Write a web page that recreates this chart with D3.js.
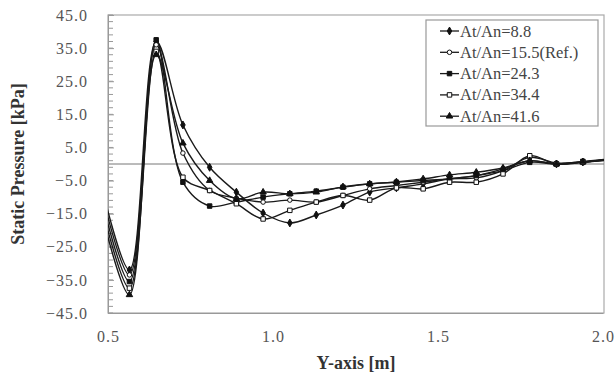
<!DOCTYPE html>
<html>
<head>
<meta charset="utf-8">
<script src="https://cdn.jsdelivr.net/npm/d3@7"></script>
<style>
  body { margin: 0; background: #fff; }
  text { font-family: "Liberation Serif", "DejaVu Serif", serif; }
</style>
</head>
<body>
<svg id="chart" width="616" height="379"></svg>
<script>
// positions along the duct [m]
const positions = [0.484, 0.565, 0.646, 0.727, 0.808, 0.889, 0.970, 1.051, 1.131, 1.212,
                   1.293, 1.374, 1.455, 1.535, 1.616, 1.697, 1.778, 1.859, 1.939, 2.020];

// static pressure [kPa] per area ratio
const ratio88  = [-8, -32.0, 37.0, 11.8, -1.0, -8.5, -14.8, -17.8, -15.4, -12.4, -8.5, -7.2, -6.0, -4.5, -3.5, -1.5, 1.0, 0.0, 0.6, 1.5];
const ratio155 = [-10, -33.5, 36.0,  3.3, -8.0, -10.3, -11.5, -10.9, -11.5, -9.5, -7.5, -6.5, -5.5, -4.5, -4.2, -2.0, 2.0, 0.3, 0.6, 1.3];
const ratio243 = [-12, -35.5, 37.5, -5.5, -12.7, -11.5, -10.0, -9.0, -8.2, -7.0, -6.0, -5.5, -5.0, -4.5, -3.5, -2.0, 0.5, 0.0, 0.8, 1.5];
const ratio344 = [-14, -37.5, 34.0, -4.0, -8.0, -12.0, -16.6, -14.0, -11.5, -9.5, -10.9, -7.2, -7.5, -5.5, -5.5, -3.0, 2.5, 0.0, 0.5, 1.2];
const ratio416 = [-16, -39.5, 33.0,  6.3, -5.0, -10.5, -8.5, -9.0, -8.5, -6.9, -6.0, -5.4, -4.5, -3.3, -2.5, -1.2, 1.0, 0.0, 0.6, 1.4];

const seriesNames = ["At/An=8.8", "At/An=15.5(Ref.)", "At/An=24.3", "At/An=34.4", "At/An=41.6"];
const seriesValues = [ratio88, ratio155, ratio243, ratio344, ratio416];
const seriesMarkers = ["diamond", "circle", "square", "square", "triangle"];
const seriesFilled = [true, false, true, false, true];

const yTicks = [-45, -35, -25, -15, -5, 5, 15, 25, 35, 45];
const xTicks = [0.5, 1.0, 1.5, 2.0];

const svg = d3.select("#chart");
const plotL = 108, plotR = 604, plotT = 15, plotB = 313;

const x = d3.scaleLinear().domain([0.5, 2.0]).range([plotL, 603]);
const y = d3.scaleLinear().domain([-45, 45]).range([plotB, plotT]);

// clip for plot
svg.append("clipPath").attr("id", "plotclip")
  .append("rect").attr("x", plotL).attr("y", plotT).attr("width", plotR - plotL).attr("height", plotB - plotT);

// frame
svg.append("rect")
  .attr("x", plotL).attr("y", plotT)
  .attr("width", plotR - plotL).attr("height", plotB - plotT)
  .attr("fill", "none").attr("stroke", "#aaa").attr("stroke-width", 1.2);

// zero line
svg.append("line")
  .attr("x1", plotL).attr("x2", plotR)
  .attr("y1", y(0)).attr("y2", y(0))
  .attr("stroke", "#777").attr("stroke-width", 1);

// y axis with minor ticks
const minor = d3.range(-45, 45.01, 2);
svg.append("g").selectAll("line.minor").data(minor).enter().append("line")
  .attr("x1", plotL).attr("x2", plotL + 5)
  .attr("y1", d => y(d)).attr("y2", d => y(d))
  .attr("stroke", "#999").attr("stroke-width", 1);

const yAxis = svg.append("g")
  .attr("transform", "translate(" + plotL + ",0)")
  .call(d3.axisLeft(y).tickValues(yTicks).tickFormat(d3.format(".1f")).tickSize(-6).tickPadding(20));
yAxis.select(".domain").attr("stroke", "#999");
yAxis.selectAll(".tick line").attr("stroke", "#999");
yAxis.selectAll("text")
  .attr("fill", "#555").style("font-size", "16px").style("letter-spacing", "1px")
  .attr("font-family", null);

const xAxis = svg.append("g")
  .attr("transform", "translate(0," + plotB + ")")
  .call(d3.axisBottom(x).tickValues(xTicks).tickFormat(d3.format(".1f")).tickSize(0).tickPadding(18));
xAxis.select(".domain").attr("stroke", "#999");
xAxis.selectAll("text")
  .attr("fill", "#555").style("font-size", "16px").style("letter-spacing", "1px")
  .attr("font-family", null);

// titles
svg.append("text")
  .attr("transform", "translate(24," + ((plotT + plotB) / 2) + ") rotate(-90)")
  .attr("text-anchor", "middle")
  .attr("fill", "#333").style("font-size", "18px").style("font-weight", "bold")
  .text("Static Pressure [kPa]");

svg.append("text")
  .attr("x", 356).attr("y", 369)
  .attr("text-anchor", "middle")
  .attr("fill", "#333").style("font-size", "18px").style("font-weight", "bold")
  .text("Y-axis [m]");

// series
const line = d3.line()
  .x((d, i) => x(positions[i]))
  .y(d => y(d))
  .curve(d3.curveCatmullRom.alpha(0.5));

const symbolTypes = {
  diamond: d3.symbolDiamond,
  circle: d3.symbolCircle,
  square: d3.symbolSquare,
  triangle: d3.symbolTriangle
};
const symbolSizes = { diamond: 18, circle: 16, square: 20, triangle: 18 };

const plot = svg.append("g").attr("clip-path", "url(#plotclip)");

seriesValues.forEach((vals, s) => {
  plot.append("path")
    .datum(vals)
    .attr("d", line)
    .attr("fill", "none")
    .attr("stroke", "#1a1a1a")
    .attr("stroke-width", 1.4);
});

seriesValues.forEach((vals, s) => {
  const m = seriesMarkers[s];
  plot.selectAll(null).data(vals).enter().append("path")
    .attr("transform", (d, i) => "translate(" + x(positions[i]) + "," + y(d) + ")")
    .attr("d", d3.symbol().type(symbolTypes[m]).size(symbolSizes[m]))
    .attr("fill", seriesFilled[s] ? "#111" : "#fff")
    .attr("stroke", "#111").attr("stroke-width", 1);
});

// legend
const lg = svg.append("g");
lg.append("rect")
  .attr("x", 426).attr("y", 20).attr("width", 172).attr("height", 106)
  .attr("fill", "#fff").attr("stroke", "#999").attr("stroke-width", 1.2);

seriesNames.forEach((name, s) => {
  const yy = 31 + s * 21.3;
  lg.append("line")
    .attr("x1", 440).attr("x2", 459).attr("y1", yy).attr("y2", yy)
    .attr("stroke", "#1a1a1a").attr("stroke-width", 1.3);
  const m = seriesMarkers[s];
  lg.append("path")
    .attr("transform", "translate(449.5," + yy + ")")
    .attr("d", d3.symbol().type(symbolTypes[m]).size(symbolSizes[m]))
    .attr("fill", seriesFilled[s] ? "#111" : "#fff")
    .attr("stroke", "#111").attr("stroke-width", 1);
  lg.append("text")
    .attr("x", 460).attr("y", yy + 5.5)
    .attr("fill", "#444").style("font-size", "16.5px")
    .text(name);
});
</script>
</body>
</html>
